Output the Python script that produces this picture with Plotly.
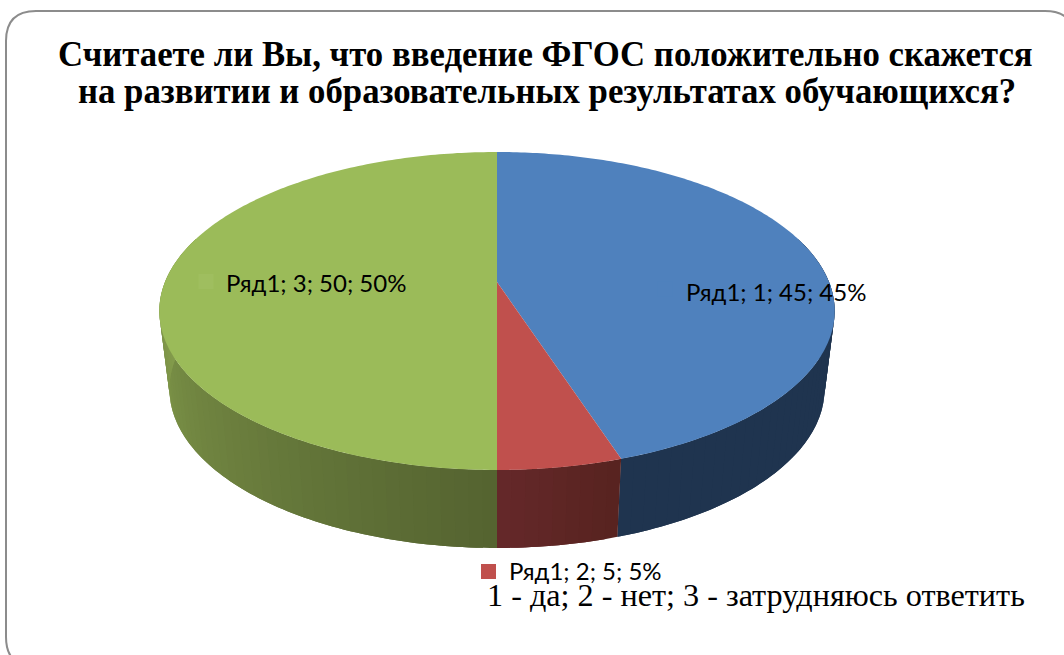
import numpy as np
import plotly.graph_objects as go

categories = [1, 2, 3]
values = [45, 5, 50]
series_name = "Ряд1"
top_colors = ["#4F81BD", "#C0504D", "#9BBB59"]
key_colors = ["#4F81BD", "#C0504D", "#9FBE5F"]
side_left = ["#1F344F", "#65282A", "#8CA651"]
side_right = ["#1F344F", "#57231F", "#546330"]
title_lines = ["Считаете ли Вы, что введение ФГОС положительно скажется",
               "на развитии и образовательных результатах обучающихся?"]
footer = "1 - да; 2 - нет; 3 - затрудняюсь ответить"

# projection of the tilted disc onto the page (pixels)
CX, CY, BX, BY, K = 497.0, 282.0, 332.0, 153.7, 0.1824
DEPTH, SHRINK = 78.0, 0.97
WALL_EXTRA = 0.3


def rim(theta):
    u, v = np.sin(theta), -np.cos(theta)
    d = 1 - K * v
    return CX + BX * u / d, CY + BY * v / d


def lower(x, y):
    return CX + (x - CX) * SHRINK, y + DEPTH


def mix(a, b, t):
    ca = [int(a[i:i + 2], 16) for i in (1, 3, 5)]
    cb = [int(b[i:i + 2], 16) for i in (1, 3, 5)]
    return "rgb(%d,%d,%d)" % tuple(round(p + (q - p) * min(t, 1.0)) for p, q in zip(ca, cb))


fracs = np.array(values, dtype=float) / sum(values)
edges = np.concatenate([[0], np.cumsum(fracs)]) * 2 * np.pi

fig = go.Figure()


def poly(x, y, color):
    fig.add_trace(go.Scatter(x=list(x), y=list(y), mode="none", fill="toself",
                             fillcolor=color, hoverinfo="skip", showlegend=False))


# side wall, only the front can be seen; each strip runs under the next one
for i in range(len(values)):
    a0 = max(edges[i], np.pi / 2 - WALL_EXTRA)
    a1 = min(edges[i + 1], 3 * np.pi / 2 + WALL_EXTRA)
    if a1 <= a0:
        continue
    n = max(2, int((a1 - a0) / (np.pi / 90)))
    bounds = np.linspace(a0, a1, n + 1)
    step = bounds[1] - bounds[0]
    for j in range(n):
        end = bounds[j + 1] + (step if j < n - 1 else 0)
        th = np.linspace(bounds[j], end, 5)
        x, y = rim(th)
        xb, yb = lower(x, y)
        t = (j + 0.5) / n
        poly(np.r_[x, xb[::-1], x[0]], np.r_[y, yb[::-1], y[0]],
             mix(side_right[i], side_left[i], t))

# top face
for i in range(len(values)):
    th = np.linspace(edges[i], edges[i + 1], 200)
    x, y = rim(th)
    poly(np.r_[CX, x, CX], np.r_[CY, y, CY], top_colors[i])

# legend keys inside the labels
key_x = [665, 488.5, 206]
key_y = [289, 571.5, 281.5]
fig.add_trace(go.Scatter(x=key_x, y=key_y, mode="markers",
                         marker=dict(symbol="square", size=15, color=key_colors, line=dict(width=0)),
                         hoverinfo="skip", showlegend=False))

label_x = [684, 507, 224]
label_y = [291, 570, 282]
annotations = []
for i, c in enumerate(categories):
    annotations.append(dict(x=label_x[i], y=label_y[i], xref="x", yref="y", xanchor="left", yanchor="middle",
                            showarrow=False, text=f"{series_name}; {c}; {values[i]}; {values[i]}%",
                            font=dict(family="Lato, Noto Sans", size=24, color="#000000")))
for k, line in enumerate(title_lines):
    annotations.append(dict(x=[545, 547][k], y=[54, 91][k], xref="x", yref="y", xanchor="center", yanchor="middle",
                            showarrow=False, text=f"<b>{line}</b>",
                            font=dict(family="Liberation Serif", size=34.75, color="#000000")))
annotations.append(dict(x=485, y=595, xref="x", yref="y", xanchor="left", yanchor="middle",
                        showarrow=False, text=footer,
                        font=dict(family="Liberation Serif", size=32.2, color="#000000")))

card = ("M 6 41 Q 6 11 36 11 L 1045 11 Q 1075 11 1075 41 "
        "L 1075 637 Q 1075 667 1045 667 L 36 667 Q 6 667 6 637 Z")

fig.update_layout(
    width=1064, height=655, margin=dict(l=0, r=0, t=0, b=0),
    paper_bgcolor="white", plot_bgcolor="white", autosize=False,
    xaxis=dict(range=[0, 1064], visible=False, fixedrange=True),
    yaxis=dict(range=[655, 0], visible=False, fixedrange=True),
    shapes=[dict(type="path", path=card, xref="x", yref="y", layer="below",
                 line=dict(color="#8C8C8C", width=2), fillcolor="white")],
    annotations=annotations,
)
fig.write_html("out.html", config={"displayModeBar": False},
               post_script="document.body.style.margin='0';document.documentElement.style.overflow='hidden';")
